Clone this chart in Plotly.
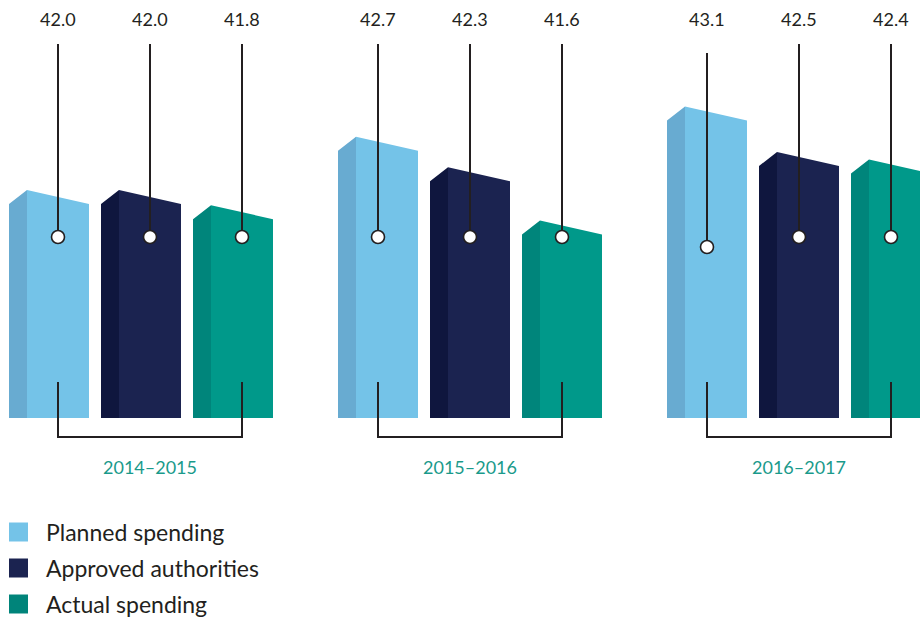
import plotly.graph_objects as go

# ---------------- data ----------------
years = ["2014–2015", "2015–2016", "2016–2017"]
series_names = ["Planned spending", "Approved authorities", "Actual spending"]
planned = [42.0, 42.7, 43.1]
approved = [42.0, 42.3, 42.5]
actual = [41.8, 41.6, 42.4]
series_values = [planned, approved, actual]

# ---------------- style ----------------
front_colors = ["#74C3E8", "#1B2350", "#00998A"]
side_colors = ["#68ABD1", "#0F163E", "#00857B"]
legend_colors = ["#74C3E8", "#1B2350", "#00847A"]
TEXT = "#231F20"
TEAL_TEXT = "#1A9A8B"
FONT = "Source Sans Pro, Lato, sans-serif"

W, H = 920, 617
BASE = 39.0          # value at the bar bottom
PX_PER_UNIT = 76.0   # vertical scale
BASE_PX = 418        # pixel row of bar bottom
GROUP_X0 = 27        # front-left of first bar
GROUP_PITCH = 329
BAR_PITCH = 92
FRONT_W = 62
SIDE_W = 18
SLANT = 14 / PX_PER_UNIT
leader_dx = [31, 22, 22]
circle_px = [[237, 237, 237], [237, 237, 237], [247, 237, 237]]
leader_top_px = [[44, 44, 44], [44, 44, 44], [53, 44, 44]]


def ypx(p):
    return BASE + (BASE_PX - p) / PX_PER_UNIT


def ypaper(p):
    return 1 - p / H


fig = go.Figure()

for s, vals in enumerate(series_values):
    sx, sy, fx, fy = [], [], [], []
    for g, v in enumerate(vals):
        xl = GROUP_X0 + GROUP_PITCH * g + BAR_PITCH * s
        # side face
        sx += [xl - SIDE_W, xl - SIDE_W, xl, xl, xl - SIDE_W, None]
        sy += [BASE, v - SLANT, v, BASE, BASE, None]
        # front face
        fx += [xl, xl, xl + FRONT_W, xl + FRONT_W, xl, None]
        fy += [BASE, v, v - SLANT, BASE, BASE, None]
    fig.add_trace(go.Scatter(x=sx, y=sy, mode="lines", fill="toself",
                             fillcolor=side_colors[s], line=dict(width=0),
                             hoverinfo="skip", showlegend=False))
    fig.add_trace(go.Scatter(x=fx, y=fy, mode="lines", fill="toself",
                             fillcolor=front_colors[s], line=dict(width=0),
                             name=series_names[s], showlegend=False,
                             hovertemplate="%{fullData.name}<extra></extra>"))

shapes = []
annotations = []
for g, yr in enumerate(years):
    lx = [GROUP_X0 + GROUP_PITCH * g + leader_dx[g] + BAR_PITCH * s for s in range(3)]
    for s in range(3):
        v = series_values[s][g]
        cy = circle_px[g][s]
        shapes.append(dict(type="line", xref="x", yref="paper",
                           x0=lx[s], x1=lx[s], y0=ypaper(leader_top_px[g][s]), y1=ypaper(cy),
                           line=dict(color=TEXT, width=2), layer="above"))
        r = 6.5
        shapes.append(dict(type="circle", xref="x", yref="paper",
                           x0=lx[s] - r, x1=lx[s] + r, y0=ypaper(cy + r), y1=ypaper(cy - r),
                           fillcolor="white", line=dict(color=TEXT, width=1.6), layer="above"))
        annotations.append(dict(x=lx[s], y=ypaper(19), xref="x", yref="paper",
                                text=f"{v:.1f}", showarrow=False,
                                xanchor="center", yanchor="middle",
                                font=dict(family=FONT, size=18, color=TEXT)))
    # bracket
    shapes.append(dict(type="path", xref="x", yref="paper",
                       path=(f"M {lx[0]},{ypaper(382)} L {lx[0]},{ypaper(437)} "
                             f"L {lx[2]},{ypaper(437)} L {lx[2]},{ypaper(382)}"),
                       line=dict(color=TEXT, width=2), layer="above"))
    annotations.append(dict(x=(lx[0] + lx[2]) / 2, y=ypaper(467), xref="x", yref="paper",
                            text=yr, showarrow=False, xanchor="center", yanchor="middle",
                            font=dict(family=FONT, size=18, color=TEAL_TEXT)))

# legend
for s, name in enumerate(series_names):
    cy = 532 + 36 * s
    shapes.append(dict(type="rect", xref="x", yref="paper",
                       x0=9, x1=28, y0=ypaper(cy + 9.5), y1=ypaper(cy - 9.5),
                       fillcolor=legend_colors[s], line=dict(width=0)))
    annotations.append(dict(x=44, y=ypaper(cy), xref="x", yref="paper",
                            text=name, showarrow=False, xanchor="left", yanchor="middle",
                            font=dict(family=FONT, size=23, color=TEXT)))

fig.update_layout(
    width=W, height=H,
    margin=dict(l=0, r=0, t=0, b=0),
    paper_bgcolor="white", plot_bgcolor="white",
    showlegend=False,
    xaxis=dict(range=[0, W], visible=False, fixedrange=True),
    yaxis=dict(range=[ypx(H), ypx(0)], visible=False, fixedrange=True),
    shapes=shapes, annotations=annotations,
)

fig.write_html(
    "out.html",
    config={"displayModeBar": False},
    post_script="document.body.style.margin='0';document.body.style.overflow='hidden';",
)
